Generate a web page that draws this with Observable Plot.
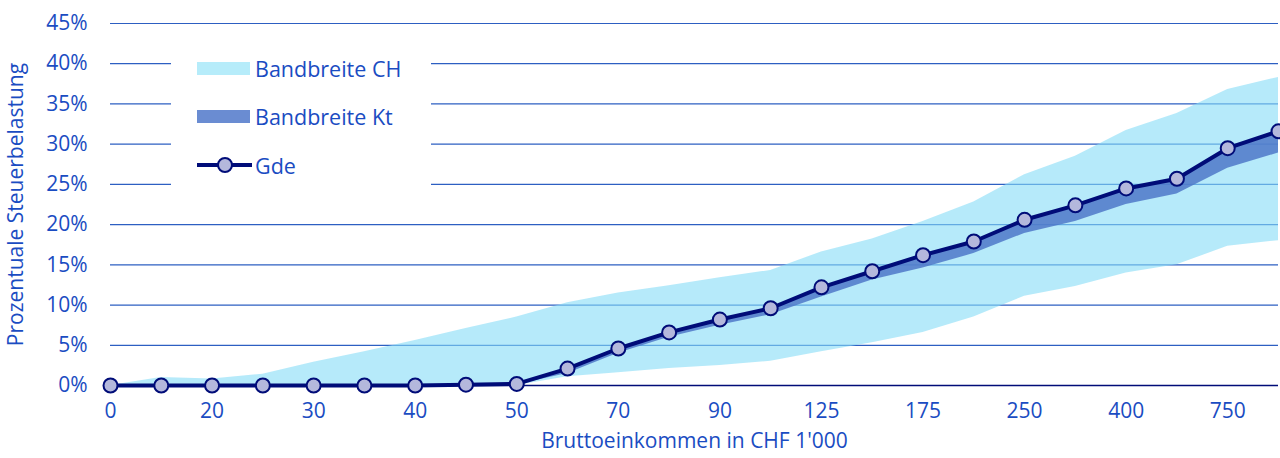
<!DOCTYPE html>
<html>
<head>
<meta charset="utf-8">
<script src="https://cdn.jsdelivr.net/npm/d3@7"></script>
<script src="https://cdn.jsdelivr.net/npm/@observablehq/plot@0.6"></script>
<style>
  body { margin: 0; background: #fff; }
  #wrap { position: relative; width: 1280px; height: 458px; font-family: "Open Sans", sans-serif; }
  #legend { position: absolute; left: 171px; top: 36px; width: 260px; height: 176px; background: #fff; color: #1a4cc2; font-size: 21.5px; }
  .item { position: absolute; left: 26px; height: 24px; display: flex; align-items: center; }
  .sw { width: 53px; height: 13px; margin-right: 5px; }
  .ln { width: 55px; height: 24px; margin-right: 3px; position: relative; }
  .ln::before { content: ""; position: absolute; left: 0; right: 0; top: 10px; height: 4px; background: #000c78; }
  .ln::after { content: ""; position: absolute; left: 20px; top: 4px; width: 12px; height: 12px; border-radius: 50%; background: #b4b8dc; border: 2px solid #000c78; }
</style>
</head>
<body>
<div id="wrap">
  <div id="chart"></div>
  <div id="legend">
    <div class="item" style="top:20px"><div class="sw" style="background:#b6ecfa"></div>Bandbreite CH</div>
    <div class="item" style="top:68px"><div class="sw" style="background:#6a8cd2"></div>Bandbreite Kt</div>
    <div class="item" style="top:117px"><div class="ln"></div>Gde</div>
  </div>
</div>
<script>
const categories = ["0","10","20","25","30","35","40","45","50","60","70","80","90","100","125","150","175","200","250","300","400","500","750","1000"];
const tickLabels = ["0","20","30","40","50","70","90","125","175","250","400","750"];
const gde   = [0,0,0,0,0,0,0,0.1,0.2,2.1,4.6,6.6,8.2,9.6,12.2,14.2,16.2,17.9,20.6,22.4,24.5,25.7,29.5,31.6];
const ktMin = [0,0,0,0,0,0,0,0,0.1,1.5,4.0,6.0,7.5,8.8,11.0,13.1,14.6,16.4,18.9,20.4,22.5,23.8,27.0,28.9];
const ktMax = [0,0,0,0,0,0,0,0.1,0.2,2.1,4.6,6.6,8.2,9.6,12.2,14.2,16.2,17.9,20.6,22.4,24.5,25.7,29.5,31.6];
const chMin = [0,0,0,0,0,0,0,0,0,1.1,1.6,2.1,2.5,3.0,4.2,5.3,6.6,8.5,11.1,12.3,14.0,15.0,17.3,18.0];
const chMax = [0,1.0,0.8,1.4,2.9,4.2,5.6,7.1,8.5,10.3,11.5,12.4,13.4,14.3,16.6,18.2,20.4,22.8,26.2,28.5,31.7,33.8,36.8,38.3];
const yTicks = [0,5,10,15,20,25,30,35,40,45];

const data = categories.map((c, i) => ({i, c, gde: gde[i], ktMin: ktMin[i], ktMax: ktMax[i], chMin: chMin[i], chMax: chMax[i]}));
const tickIdx = tickLabels.map(t => categories.indexOf(t));
const txt = "#1a4cc2";

const chart = Plot.plot({
  width: 1280, height: 458,
  marginLeft: 110, marginRight: 2, marginTop: 23, marginBottom: 73,
  style: {fontFamily: "Open Sans, sans-serif", fontSize: "21px", color: txt, background: "#fff"},
  x: {domain: [0, categories.length - 1]},
  y: {domain: [0, 45]},
  marks: [
    Plot.ruleY(yTicks.filter(d => d > 0), {stroke: "#2d5fc2", strokeWidth: 1.2}),
    Plot.areaY(data, {x: "i", y1: "chMin", y2: "chMax", fill: "#86dcf6", fillOpacity: 0.6}),
    Plot.areaY(data, {x: "i", y1: "ktMin", y2: "ktMax", fill: "#4f78c8", fillOpacity: 0.85}),
    Plot.ruleY([0], {stroke: "#000c78", strokeWidth: 1.5}),
    Plot.line(data, {x: "i", y: "gde", stroke: "#000c78", strokeWidth: 4}),
    Plot.dot(data, {x: "i", y: "gde", r: 7, fill: "#b4b8dc", stroke: "#000c78", strokeWidth: 2}),
    Plot.axisY({ticks: yTicks, tickSize: 0, tickPadding: 23, tickFormat: d => d + "%", fill: txt,
      label: "Prozentuale Steuerbelastung", labelAnchor: "center", labelArrow: "none", labelOffset: 102}),
    Plot.axisX({ticks: tickIdx, tickSize: 0, tickPadding: 18, tickFormat: i => categories[i], fill: txt,
      label: "Bruttoeinkommen in CHF 1'000", labelAnchor: "center", labelArrow: "none", labelOffset: 62})
  ]
});
document.getElementById("chart").appendChild(chart);
</script>
</body>
</html>
